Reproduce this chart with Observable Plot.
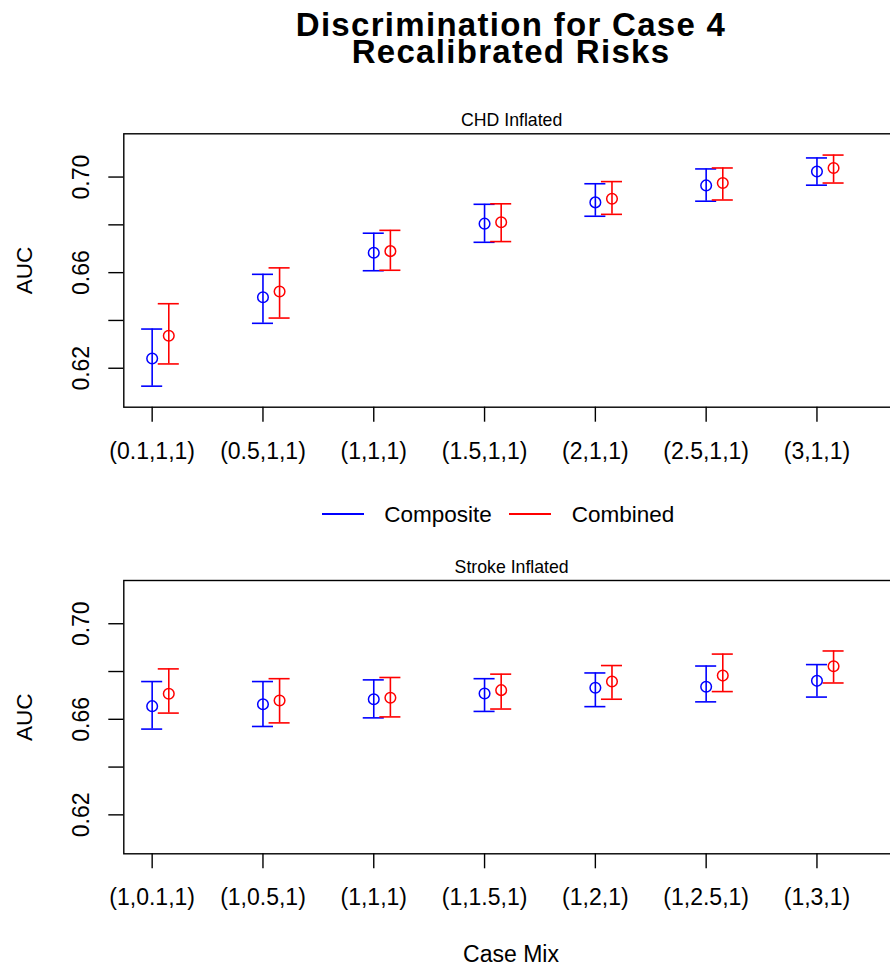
<!DOCTYPE html>
<html>
<head>
<meta charset="utf-8">
<script src="https://cdn.jsdelivr.net/npm/d3@7"></script>
<script src="https://cdn.jsdelivr.net/npm/@observablehq/plot@0.6"></script>
<style>
  html, body { margin: 0; padding: 0; background: #fff; }
  #page {
    position: relative; width: 890px; height: 967px; overflow: hidden;
    font-family: "Liberation Sans", Arial, Helvetica, sans-serif; color: #000; background: #fff;
  }
  .title {
    position: absolute; left: 111px; width: 800px; height: 26px;
    text-align: center; font-weight: bold; font-size: 33px; line-height: 26px;
    letter-spacing: 1.3px; white-space: nowrap;
  }
  .abs { position: absolute; }
  .panel { width: 910px; height: 400px; }
  .panel svg { max-width: none !important; }
  .legend-text { font-size: 22.5px; line-height: 26px; white-space: nowrap; }
  .swatch { height: 2px; }
  #xlabel { left: 111px; width: 800px; text-align: center; font-size: 23px; line-height: 26px; top: 941px; }
</style>
</head>
<body>
<div id="page">
  <div class="title" style="top:12px;">Discrimination for Case 4</div>
  <div class="title" style="top:39.4px;">Recalibrated Risks</div>
  <div id="top" class="abs panel" style="left:0; top:90px;"></div>
  <div class="abs swatch" style="left:321.7px; top:513px; width:42.3px; background:#0000FF;"></div>
  <div class="abs legend-text" style="left:384.3px; top:501.5px;">Composite</div>
  <div class="abs swatch" style="left:509px; top:513px; width:41.7px; background:#FF0000;"></div>
  <div class="abs legend-text" style="left:571.7px; top:501.5px;">Combined</div>
  <div id="bottom" class="abs panel" style="left:0; top:540px;"></div>
  <div id="xlabel" class="abs">Case Mix</div>
</div>
<script>
// Case-mix settings on the x axis of each panel
const chdCases = ["(0.1,1,1)", "(0.5,1,1)", "(1,1,1)", "(1.5,1,1)", "(2,1,1)", "(2.5,1,1)", "(3,1,1)"];
const strokeCases = ["(1,0.1,1)", "(1,0.5,1)", "(1,1,1)", "(1,1.5,1)", "(1,2,1)", "(1,2.5,1)", "(1,3,1)"];

const seriesNames = ["Composite", "Combined"];
const seriesColors = ["#0000FF", "#FF0000"];

// CHD inflated: AUC estimate with lower / upper interval bounds
const chdCompositeAuc = [0.6241, 0.6497, 0.6683, 0.6805, 0.6894, 0.6965, 0.7023];
const chdCompositeLo  = [0.6125, 0.6388, 0.6608, 0.6727, 0.6836, 0.6899, 0.6966];
const chdCompositeHi  = [0.6364, 0.6593, 0.6765, 0.6886, 0.6972, 0.7034, 0.7080];
const chdCombinedAuc  = [0.6336, 0.6521, 0.6690, 0.6811, 0.6909, 0.6975, 0.7038];
const chdCombinedLo   = [0.6218, 0.6410, 0.6610, 0.6730, 0.6844, 0.6904, 0.6975];
const chdCombinedHi   = [0.6470, 0.6620, 0.6777, 0.6888, 0.6981, 0.7038, 0.7092];

// Stroke inflated
const strokeCompositeAuc = [0.6655, 0.6663, 0.6684, 0.6708, 0.6732, 0.6736, 0.6761];
const strokeCompositeLo  = [0.6559, 0.6570, 0.6606, 0.6633, 0.6653, 0.6673, 0.6693];
const strokeCompositeHi  = [0.6758, 0.6758, 0.6765, 0.6770, 0.6794, 0.6823, 0.6829];
const strokeCombinedAuc  = [0.6707, 0.6679, 0.6690, 0.6722, 0.6758, 0.6783, 0.6822];
const strokeCombinedLo   = [0.6626, 0.6585, 0.6610, 0.6643, 0.6684, 0.6716, 0.6752];
const strokeCombinedHi   = [0.6811, 0.6770, 0.6775, 0.6789, 0.6825, 0.6873, 0.6886];

// y axis ticks and the subset that carries a label
const yTicks = [0.62, 0.64, 0.66, 0.68, 0.70];
const yTickLabels = ["0.62", "0.66", "0.70"];

// horizontal nudge of the second series and half-width of the interval caps (x units)
const dodge = 0.15;
const capHalf = 0.095;

function rowsFor(series) {
  const rows = [];
  series.forEach(({name, auc, lo, hi}, s) => {
    auc.forEach((v, i) => {
      rows.push({series: name, x: i + 1 + s * dodge, auc: v, lo: lo[i], hi: hi[i]});
    });
  });
  return rows;
}

function panel({cases, series, title, marginTop, marginBottom}) {
  const rows = rowsFor(series);
  const positions = cases.map((_, i) => i + 1);
  return Plot.plot({
    width: 910,
    height: 400,
    marginLeft: 123.3,
    marginRight: 11,
    marginTop,
    marginBottom,
    style: {fontFamily: "'Liberation Sans', Arial, Helvetica, sans-serif", fontSize: "23px", color: "#000", background: "#fff", maxWidth: "none", overflow: "visible"},
    x: {domain: [0.744, 7.745]},
    y: {domain: [0.6037, 0.7181]},
    color: {domain: seriesNames, range: seriesColors},
    marks: [
      Plot.frame({stroke: "#000", strokeWidth: 1.4}),
      Plot.axisY({ticks: yTicks, tickSize: 15, tickFormat: () => "", label: null, strokeWidth: 1.4}),
      Plot.text(yTickLabels, {y: (d) => +d, text: (d) => d, frameAnchor: "left", rotate: -90, dx: -42.5, lineAnchor: "middle", textAnchor: "middle", fontSize: 23}),
      Plot.text(["AUC"], {text: (d) => d, frameAnchor: "left", rotate: -90, dx: -99, lineAnchor: "middle", textAnchor: "middle", fontSize: 22.5}),
      Plot.axisX({ticks: positions, tickFormat: (d) => cases[Math.round(d) - 1], tickSize: 15, tickPadding: 20, fontSize: 23, label: null, strokeWidth: 1.4}),
      Plot.text([title], {text: (d) => d, frameAnchor: "top", dy: -7.7, lineAnchor: "bottom", fontSize: 17.7}),
      Plot.ruleX(rows, {x: "x", y1: "lo", y2: "hi", stroke: "series", strokeWidth: 1.6}),
      Plot.ruleY(rows, {y: "lo", x1: (d) => d.x - capHalf, x2: (d) => d.x + capHalf, stroke: "series", strokeWidth: 1.6}),
      Plot.ruleY(rows, {y: "hi", x1: (d) => d.x - capHalf, x2: (d) => d.x + capHalf, stroke: "series", strokeWidth: 1.6}),
      Plot.dot(rows, {x: "x", y: "auc", r: 5.3, stroke: "series", fill: "none", strokeWidth: 1.5})
    ]
  });
}

document.getElementById("top").append(panel({
  cases: chdCases,
  title: "CHD Inflated",
  marginTop: 43.3,
  marginBottom: 83.3,
  series: [
    {name: "Composite", auc: chdCompositeAuc, lo: chdCompositeLo, hi: chdCompositeHi},
    {name: "Combined", auc: chdCombinedAuc, lo: chdCombinedLo, hi: chdCombinedHi}
  ]
}));

document.getElementById("bottom").append(panel({
  cases: strokeCases,
  title: "Stroke Inflated",
  marginTop: 40,
  marginBottom: 86.7,
  series: [
    {name: "Composite", auc: strokeCompositeAuc, lo: strokeCompositeLo, hi: strokeCompositeHi},
    {name: "Combined", auc: strokeCombinedAuc, lo: strokeCombinedLo, hi: strokeCombinedHi}
  ]
}));
</script>
</body>
</html>
